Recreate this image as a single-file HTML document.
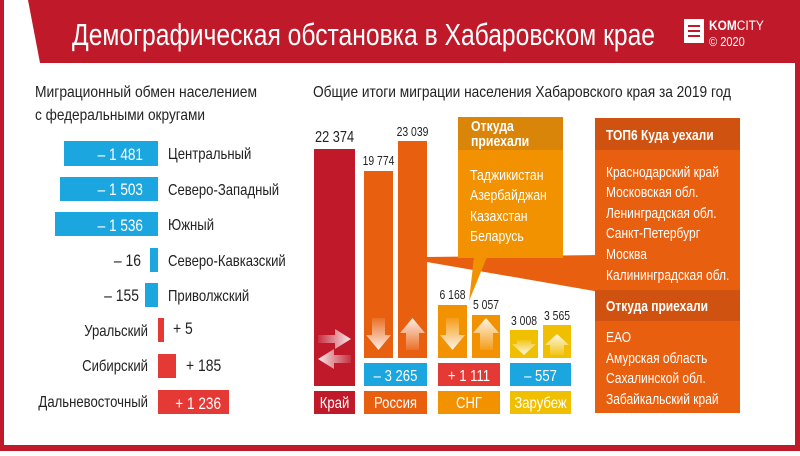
<!DOCTYPE html>
<html><head><meta charset="utf-8"><style>
html,body{margin:0;padding:0;background:#fff}
svg text{font-family:"Liberation Sans Narrow","Liberation Sans",sans-serif}
</style></head><body>
<svg width="800" height="451" viewBox="0 0 800 451" xmlns="http://www.w3.org/2000/svg">
<defs>
<linearGradient id="gd" x1="0" y1="0" x2="0" y2="1"><stop offset="0" stop-color="#fff" stop-opacity="0.1"/><stop offset="1" stop-color="#fff" stop-opacity="0.9"/></linearGradient>
<linearGradient id="gu" x1="0" y1="1" x2="0" y2="0"><stop offset="0" stop-color="#fff" stop-opacity="0.1"/><stop offset="1" stop-color="#fff" stop-opacity="0.9"/></linearGradient>
<linearGradient id="gr" x1="0" y1="0" x2="1" y2="0"><stop offset="0" stop-color="#fff" stop-opacity="0.1"/><stop offset="1" stop-color="#fff" stop-opacity="0.9"/></linearGradient>
<linearGradient id="gl" x1="1" y1="0" x2="0" y2="0"><stop offset="0" stop-color="#fff" stop-opacity="0.1"/><stop offset="1" stop-color="#fff" stop-opacity="0.9"/></linearGradient>
</defs>
<rect x="0" y="0" width="800" height="451" fill="#c0192a"/>
<rect x="4" y="63" width="791" height="382" fill="#fff"/>
<polygon points="4,0 28,0 40,63 4,63" fill="#fff"/>
<text x="72" y="45" font-size="31" fill="#fff" textLength="583" lengthAdjust="spacingAndGlyphs">Демографическая обстановка в Хабаровском крае</text>
<rect x="684" y="19" width="20" height="24" fill="#fff"/>
<rect x="688" y="25" width="12" height="2" fill="#c0192a"/><rect x="688" y="30" width="12" height="2" fill="#c0192a"/><rect x="688" y="35" width="12" height="2" fill="#c0192a"/>
<text transform="matrix(0.85,0,0,1,709,30)" font-size="14" fill="#fff"><tspan font-weight="bold">KOM</tspan>CITY</text>
<text transform="matrix(0.85,0,0,1,709,46)" font-size="13" fill="#fff">© 2020</text>

<g font-size="16" fill="#222">
<text x="35" y="97" textLength="222" lengthAdjust="spacingAndGlyphs">Миграционный обмен населением</text>
<text x="35" y="120" textLength="170" lengthAdjust="spacingAndGlyphs">с федеральными округами</text>
<text x="313" y="97" textLength="418" lengthAdjust="spacingAndGlyphs">Общие итоги миграции населения Хабаровского края за  2019 год</text>
</g>

<g fill="#1ba6df">
<rect x="64" y="141" width="94" height="25"/><rect x="60" y="177" width="98" height="24"/><rect x="55" y="212" width="103" height="24"/>
<rect x="150" y="248" width="8" height="24"/><rect x="145" y="283" width="13" height="24"/>
</g>
<g fill="#e53935">
<rect x="158" y="318" width="6" height="24"/><rect x="158" y="354" width="18" height="24"/><rect x="158" y="390" width="71" height="24"/>
</g>
<g font-size="17" fill="#fff" text-anchor="end">
<text transform="matrix(0.8,0,0,1,143,160)">– 1 481</text><text transform="matrix(0.8,0,0,1,143,195)">– 1 503</text><text transform="matrix(0.8,0,0,1,143,231)">– 1 536</text>
<text transform="matrix(0.8,0,0,1,221,409)">+ 1 236</text>
</g>
<g font-size="16" fill="#222">
<text transform="matrix(0.82,0,0,1,168,159)">Центральный</text><text transform="matrix(0.82,0,0,1,168,195)">Северо-Западный</text><text transform="matrix(0.82,0,0,1,168,230)">Южный</text>
<text transform="matrix(0.82,0,0,1,168,266)">Северо-Кавказский</text><text transform="matrix(0.82,0,0,1,168,301)">Приволжский</text>
<text transform="matrix(0.82,0,0,1,173,334)" font-size="17">+ 5</text><text transform="matrix(0.82,0,0,1,186,371)" font-size="17">+ 185</text>
<g text-anchor="end"><text transform="matrix(0.82,0,0,1,141,266)" font-size="17">– 16</text><text transform="matrix(0.82,0,0,1,139,301)" font-size="17">– 155</text><text transform="matrix(0.82,0,0,1,148,336)">Уральский</text><text transform="matrix(0.82,0,0,1,148,371)">Сибирский</text><text transform="matrix(0.82,0,0,1,148,407)">Дальневосточный</text></g>
</g>

<polygon points="427,257 600,255 600,292 427,262" fill="#e8600f"/>
<rect x="314" y="149" width="41" height="237" fill="#c0192a"/>
<rect x="364" y="171" width="29" height="187" fill="#e8600f"/>
<rect x="398" y="141" width="29" height="217" fill="#e8600f"/>
<rect x="438" y="305" width="29" height="53" fill="#f39200"/>
<rect x="472" y="315" width="28" height="43" fill="#f39200"/>
<rect x="510" y="330" width="28" height="28" fill="#f0c000"/>
<rect x="543" y="325" width="28" height="33" fill="#f0c000"/>
<polygon points="372,318 385,318 385,335 391,335 378.5,350 366,335 372,335" fill="url(#gd)"/>
<polygon points="406,350 419,350 419,333 425,333 412.5,318 400,333 406,333" fill="url(#gu)"/>
<polygon points="446,318 459,318 459,335 465,335 452.5,350 440,335 446,335" fill="url(#gd)"/>
<polygon points="480,350 493,350 493,333 499,333 486,318 473,333 480,333" fill="url(#gu)"/>
<polygon points="517,340 531,340 531,344 536,344 524,355 512,344 517,344" fill="url(#gd)"/>
<polygon points="550,355 564,355 564,345 569,345 557,334 545,345 550,345" fill="url(#gu)"/>
<polygon points="318,335 335,335 335,329 351,339 335,349 335,343 318,343" fill="url(#gr)"/>
<polygon points="351,355 334,355 334,349 318,359 334,369 334,363 351,363" fill="url(#gl)"/>
<rect x="364" y="363" width="63" height="23" fill="#1ba6df"/>
<rect x="438" y="363" width="62" height="23" fill="#e53935"/>
<rect x="510" y="363" width="61" height="23" fill="#1ba6df"/>
<rect x="314" y="391" width="41" height="23" fill="#c0192a"/>
<rect x="364" y="391" width="63" height="23" fill="#e8600f"/>
<rect x="438" y="391" width="62" height="23" fill="#f39200"/>
<rect x="510" y="391" width="61" height="23" fill="#f0c000"/>
<g font-size="16" fill="#fff" text-anchor="middle">
<text transform="matrix(0.82,0,0,1,395.5,381)">– 3 265</text><text transform="matrix(0.82,0,0,1,469,381)">+ 1 111</text><text transform="matrix(0.82,0,0,1,540.5,381)">– 557</text>
<text transform="matrix(0.82,0,0,1,334.5,408)">Край</text><text transform="matrix(0.82,0,0,1,395.5,408)">Россия</text><text transform="matrix(0.82,0,0,1,469,408)">СНГ</text><text transform="matrix(0.82,0,0,1,540.5,408)">Зарубеж</text>
</g>
<g font-size="13" fill="#222" text-anchor="middle">
<text transform="matrix(0.8,0,0,1,334.5,142)" font-size="16">22 374</text>
<text transform="matrix(0.8,0,0,1,378.5,165)">19 774</text><text transform="matrix(0.8,0,0,1,412.5,136)">23 039</text>
<text transform="matrix(0.8,0,0,1,452.5,299)">6 168</text><text transform="matrix(0.8,0,0,1,486,309)">5 057</text>
<text transform="matrix(0.8,0,0,1,524,325)">3 008</text><text transform="matrix(0.8,0,0,1,557,320)">3 565</text>
</g>
<polygon points="474,257 487,257 469,301" fill="#f39200"/>
<rect x="458" y="117" width="105" height="141" fill="#f39200"/>
<rect x="458" y="117" width="105" height="33" fill="#d9850a"/>
<g font-size="15" fill="#fff">
<text transform="matrix(0.82,0,0,1,471,131)" font-weight="bold">Откуда</text><text transform="matrix(0.82,0,0,1,471,146)" font-weight="bold">приехали</text>
<text transform="matrix(0.82,0,0,1,470,180)">Таджикистан</text><text transform="matrix(0.82,0,0,1,470,200)">Азербайджан</text><text transform="matrix(0.82,0,0,1,470,221)">Казахстан</text><text transform="matrix(0.82,0,0,1,470,241)">Беларусь</text>
</g>
<rect x="595" y="118" width="145" height="295" fill="#e8600f"/>
<rect x="595" y="118" width="145" height="32" fill="#cf5210"/>
<rect x="595" y="290" width="145" height="31" fill="#cf5210"/>
<g font-size="15" fill="#fff">
<text transform="matrix(0.8,0,0,1,606,140)" font-weight="bold">ТОП6 Куда уехали</text>
<text transform="matrix(0.8,0,0,1,606,177)">Краснодарский край</text><text transform="matrix(0.8,0,0,1,606,197)">Московская обл.</text><text transform="matrix(0.8,0,0,1,606,218)">Ленинградская обл.</text>
<text transform="matrix(0.8,0,0,1,606,238)">Санкт-Петербург</text><text transform="matrix(0.8,0,0,1,606,259)">Москва</text><text transform="matrix(0.8,0,0,1,606,280)">Калининградская обл.</text>
<text transform="matrix(0.8,0,0,1,606,311)" font-weight="bold">Откуда приехали</text>
<text transform="matrix(0.8,0,0,1,606,342)">ЕАО</text><text transform="matrix(0.8,0,0,1,606,363)">Амурская область</text><text transform="matrix(0.8,0,0,1,606,383)">Сахалинской обл.</text><text transform="matrix(0.8,0,0,1,606,404)">Забайкальский край</text>
</g>
</svg>
</body></html>
